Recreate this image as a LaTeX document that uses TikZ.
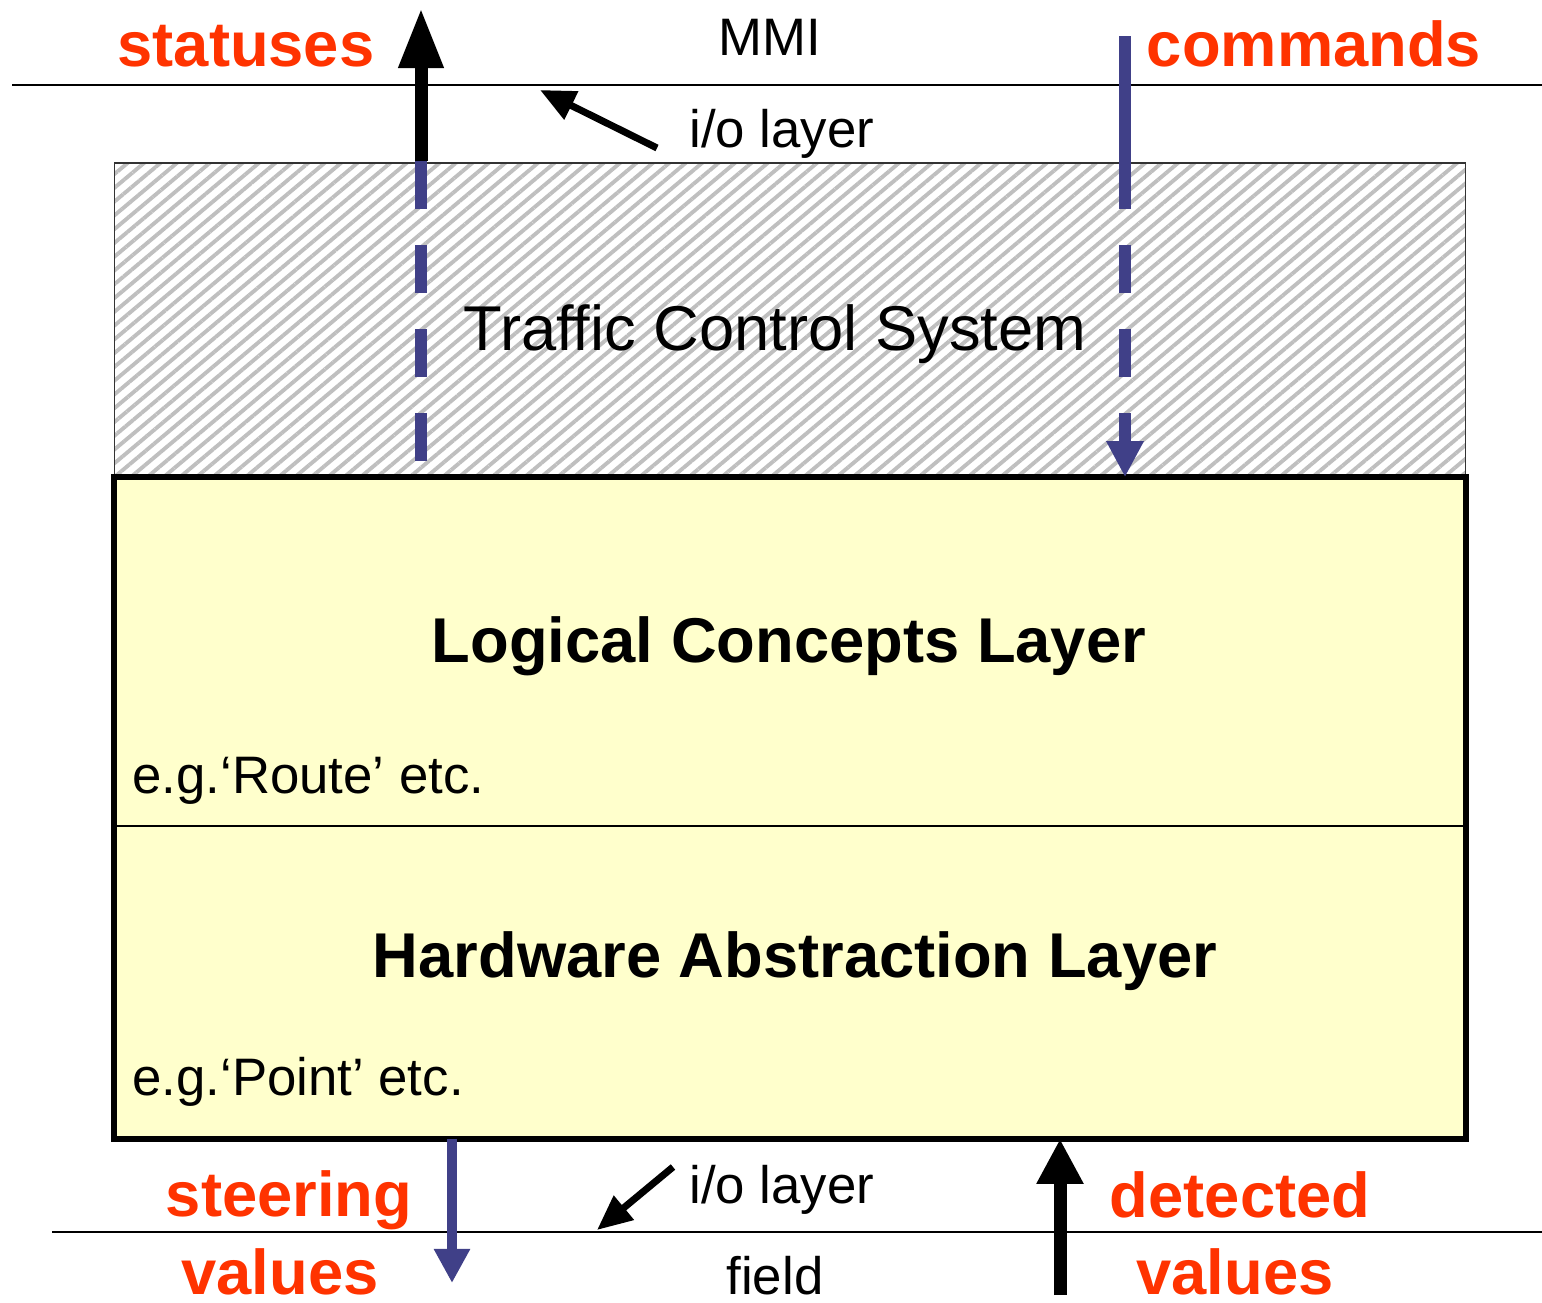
\documentclass[tikz,border=0pt]{standalone}
\usepackage{fontspec}
\setmainfont{Liberation Sans}
\usepackage{tikz}
\usetikzlibrary{positioning,arrows.meta,patterns.meta}
\definecolor{signalred}{HTML}{FF3300}
\definecolor{flowblue}{HTML}{404088}
\definecolor{layeryellow}{HTML}{FFFFCC}
\tikzset{
    hatchbox/.style={rectangle, draw=black!80, line width=0.5pt, pattern={Lines[angle=40,distance=3pt,line width=1.1pt]}, pattern color=gray!50, minimum width=13.5cm, minimum height=3.12cm},
    layer/.style={rectangle, fill=layeryellow, minimum width=13.5cm, inner sep=0pt},
    title/.style={font=\fontsize{18}{22}\selectfont\bfseries, anchor=base},
    note/.style={font=\fontsize{15}{18}\selectfont, anchor=base},
    signal/.style={font=\fontsize{18}{22}\selectfont\bfseries, text=signalred, anchor=base},
    boundary/.style={line width=0.6pt},
    upflow/.style={-{Triangle[width=0.42cm,length=0.6cm]}, line width=0.13cm},
    blueflow/.style={line width=0.12cm, draw=flowblue},
    dashflow/.style={blueflow, dash pattern=on 0.48cm off 0.36cm},
    pointer/.style={-{Triangle[width=0.3cm,length=0.35cm]}, line width=0.07cm},
}
\begin{document}
\begin{tikzpicture}
        [x=0.01cm, y=-0.01cm]
        \useasboundingbox (0,0) rectangle (1542,1303);

        % Boundaries
        \coordinate (mmiwest) at (12,85);
        \coordinate (mmieast) at (1542,85);
        \coordinate (fieldwest) at (52,1232);
        \coordinate (fieldeast) at (1542,1232);
        \draw[boundary] (mmiwest) -- (mmieast);
        \draw[boundary] (fieldwest) -- (fieldeast);

        % Layers
        \node[hatchbox] (tcs) at (790,319) {};
        \node[layer, minimum height=3.47cm] (logic) at (790,651.5) {};
        \node[layer, minimum height=3.13cm] (hal) at (790,981.5) {};
        \draw[line width=0.6pt] (logic.south west) -- (logic.south east);
        \draw[line width=1.8pt] (logic.north west) rectangle (hal.south east);

        % Texts
        \node[note] (mmi) at (770,55) {MMI};
        \node[note, anchor=base west] (iotop) at (677,147) {i/o layer};
        \node[font=\fontsize{18}{22}\selectfont, anchor=base] (tcslabel) at (775,350) {Traffic Control System};
        \node[title] (logictitle) at (789,662) {Logical Concepts Layer};
        \node[note, anchor=base west] (route) at (120,793) {e.g.`Route' etc.};
        \node[title] (haltitle) at (795,977) {Hardware Abstraction Layer};
        \node[note, anchor=base west] (point) at (120,1095) {e.g.`Point' etc.};
        \node[note, anchor=base west] (iobottom) at (677,1203) {i/o layer};
        \node[note] (field) at (775,1294) {field};

        % Signals
        \node[signal] (statuses) at (246,66) {statuses};
        \node[signal] (commands) at (1314,66) {commands};
        \node[signal] (steering) at (289,1216) {steering};
        \node[signal] (steervalues) at (280,1294) {values};
        \node[signal] (detected) at (1240,1217) {detected};
        \node[signal] (detvalues) at (1235,1294) {values};

        % Upward flow
        \coordinate (stattip) at (421,8);
        \draw[upflow] (stattip |- tcs.north) -- (stattip);
        \draw[dashflow] (stattip |- tcs.north) -- (stattip |- tcs.south);

        % Downward flow
        \coordinate (cmdtail) at (1125,36);
        \draw[blueflow] (cmdtail) -- (cmdtail |- tcs.north);
        \draw[dashflow, -{Triangle[width=0.35cm,length=0.36cm]}] (cmdtail |- tcs.north) -- (cmdtail |- logic.north);

        % Field flows
        \coordinate (steertip) at (452,1283);
        \coordinate (dettail) at (1060,1295);
        \draw[blueflow, line width=0.1cm, -{Triangle[width=0.34cm,length=0.34cm]}] (steertip |- hal.south) -- (steertip);
        \draw[upflow, -{Triangle[width=0.44cm,length=0.45cm]}] (dettail) -- (dettail |- hal.south);

        % i/o layer pointers
        \coordinate (iotoptail) at (657,148);
        \coordinate (iotoptip) at (540,90);
        \coordinate (iobottail) at (673,1167);
        \coordinate (iobottip) at (597,1230);
        \draw[pointer] (iotoptail) -- (iotoptip);
        \draw[pointer] (iobottail) -- (iobottip);
\end{tikzpicture}
\end{document}
